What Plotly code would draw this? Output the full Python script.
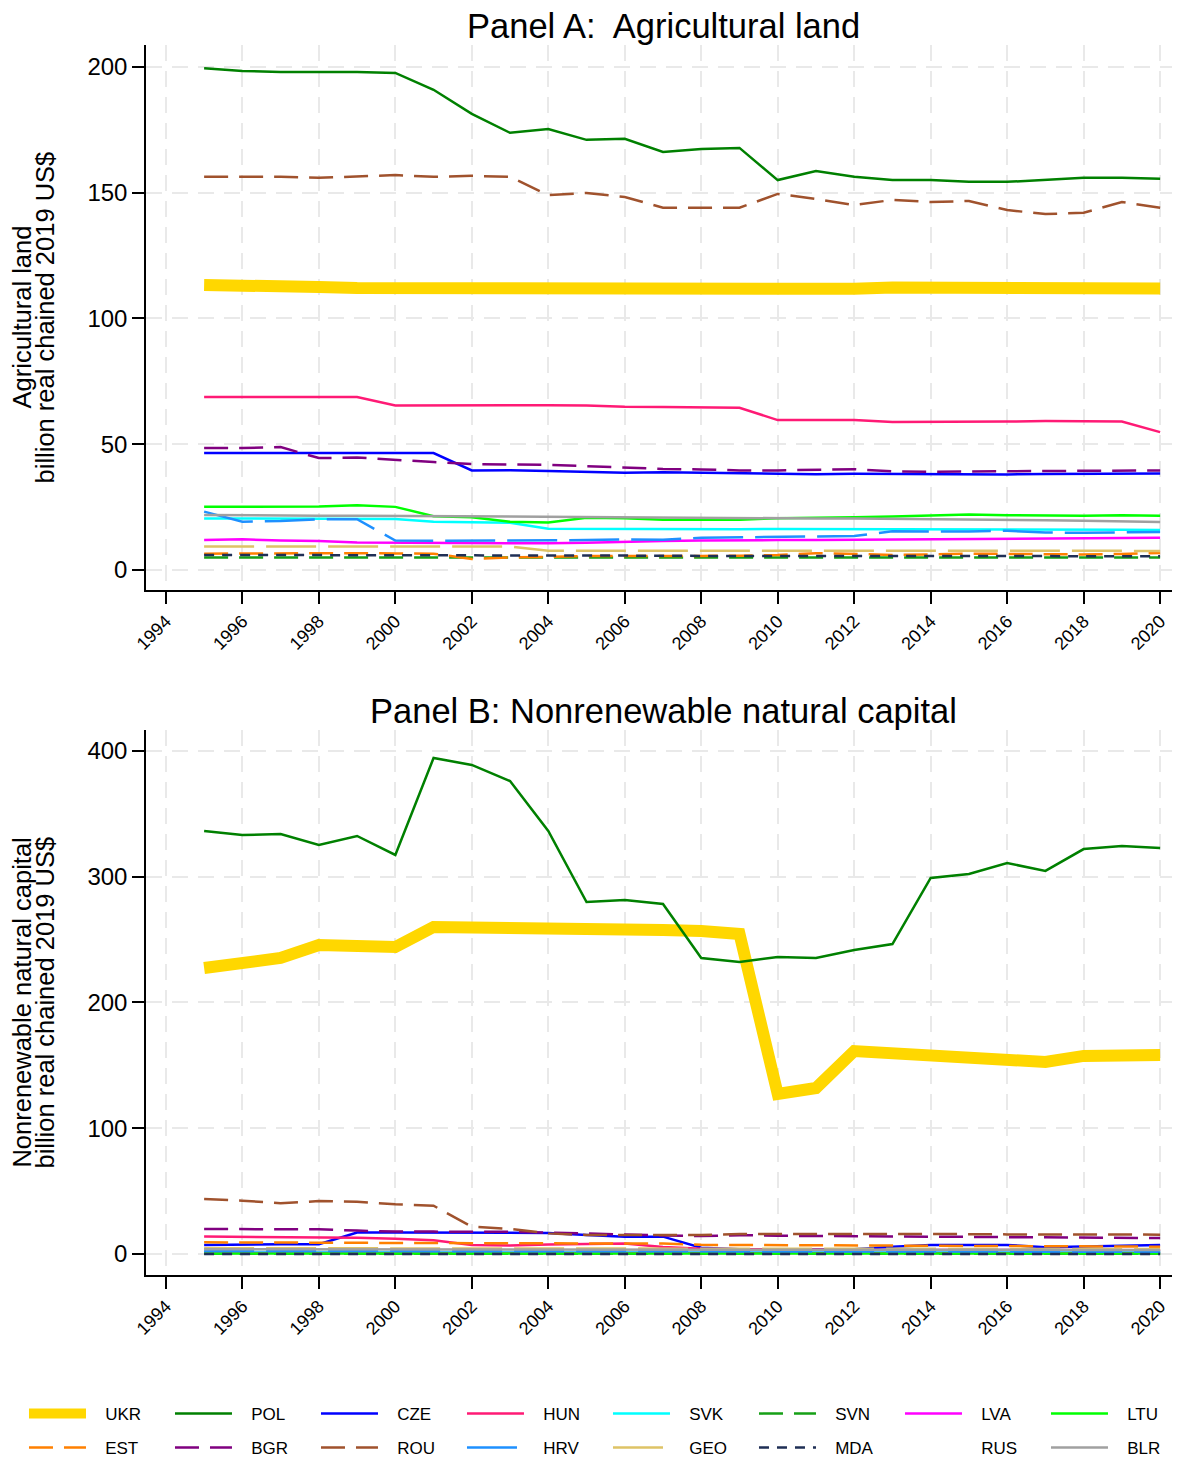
import plotly.graph_objects as go

years = list(range(1995, 2021))

countries = ["UKR", "POL", "CZE", "HUN", "SVK", "SVN", "LVA", "LTU",
             "EST", "BGR", "ROU", "HRV", "GEO", "MDA", "RUS", "BLR"]

# Panel A: agricultural land, billion real chained 2019 US$
agri = {
    "UKR": [113.3, 113.3, 113.3, 112.5, 112.1, 112.0, 111.8, 111.8, 111.8, 111.8, 111.8, 111.7, 111.6,
            111.6, 111.6, 111.6, 111.7, 111.8, 112.3, 112.4, 112.4, 112.4, 112.3, 112.0, 111.9, 111.9],
    "POL": [199.5, 198.4, 198.0, 198.0, 198.0, 197.6, 190.9, 181.3, 173.8, 175.3, 171.0, 171.4, 166.2,
            167.4, 167.8, 155.0, 158.6, 156.3, 155.0, 155.0, 154.3, 154.3, 155.0, 155.9, 155.9, 155.5],
    "CZE": [46.5, 46.5, 46.5, 46.5, 46.5, 46.5, 46.5, 39.6, 39.7, 39.4, 39.1, 38.7, 38.9,
            38.7, 38.5, 38.3, 38.1, 38.3, 38.2, 38.1, 38.0, 38.0, 38.2, 38.3, 38.3, 38.4],
    "HUN": [68.8, 68.8, 68.9, 68.9, 68.8, 65.4, 65.5, 65.4, 65.5, 65.5, 65.4, 64.9, 64.8,
            64.6, 64.5, 59.6, 59.6, 59.6, 58.8, 58.8, 58.8, 59.0, 59.2, 59.2, 59.0, 54.8],
    "SVK": [20.5, 20.5, 20.5, 20.4, 20.4, 20.3, 19.2, 19.1, 18.8, 16.4, 16.3, 16.2, 16.2,
            16.2, 16.2, 16.3, 16.3, 16.2, 16.1, 16.0, 16.0, 16.0, 16.0, 16.0, 16.0, 15.9],
    "SVN": [5.0, 5.0, 5.0, 5.0, 5.1, 5.0, 4.9, 5.0, 5.0, 4.9, 5.0, 5.0, 4.9,
            5.0, 5.0, 5.0, 5.0, 5.0, 5.0, 5.0, 5.0, 5.0, 5.0, 5.0, 5.0, 5.0],
    "LVA": [11.9, 12.2, 11.7, 11.5, 10.9, 10.8, 10.6, 10.6, 10.6, 10.6, 10.8, 11.3, 11.5,
            11.7, 11.9, 11.9, 11.9, 12.0, 12.0, 12.1, 12.2, 12.3, 12.5, 12.6, 12.7, 12.8],
    "LTU": [25.1, 25.1, 25.1, 25.2, 25.7, 25.1, 21.4, 21.0, 19.2, 18.9, 20.8, 20.6, 20.0,
            19.9, 20.0, 20.6, 20.7, 21.0, 21.3, 21.7, 22.1, 21.8, 21.6, 21.6, 21.8, 21.6],
    "EST": [6.5, 6.6, 6.6, 6.6, 6.7, 6.6, 6.5, 4.4, 5.0, 5.2, 5.6, 5.6, 5.5,
            5.6, 5.7, 6.0, 6.7, 6.3, 6.0, 6.2, 6.5, 6.4, 6.3, 6.2, 6.4, 6.8],
    "BGR": [48.5, 48.5, 48.9, 44.5, 44.7, 43.7, 42.9, 42.1, 42.0, 41.8, 41.3, 40.6, 40.2,
            40.0, 39.6, 39.6, 39.8, 40.1, 39.2, 39.0, 39.2, 39.3, 39.4, 39.4, 39.4, 39.6],
    "ROU": [156.3, 156.3, 156.3, 155.9, 156.3, 157.0, 156.3, 156.7, 156.3, 149.0, 149.9, 148.3, 144.0,
            144.0, 144.0, 149.5, 147.5, 145.1, 147.1, 146.3, 146.7, 143.1, 141.5, 142.0, 146.3, 144.0],
    "HRV": [23.2, 19.2, 19.5, 20.2, 20.2, 11.7, 11.6, 11.7, 11.8, 11.7, 11.9, 12.2, 12.0,
            12.8, 13.0, 13.3, 13.4, 13.5, 15.4, 15.3, 15.3, 15.6, 14.9, 14.8, 15.0, 15.1],
    "GEO": [9.3, 9.3, 9.3, 9.3, 9.3, 9.3, 9.3, 9.3, 9.3, 7.7, 7.7, 7.7, 7.7,
            7.7, 7.7, 7.7, 7.7, 7.6, 7.6, 7.6, 7.6, 7.6, 7.6, 7.6, 7.6, 7.6],
    "MDA": [6.0, 6.0, 6.0, 6.0, 6.0, 6.0, 6.0, 5.9, 5.9, 5.9, 5.9, 5.8, 5.7,
            5.6, 5.6, 5.6, 5.5, 5.5, 5.5, 5.5, 5.5, 5.5, 5.5, 5.5, 5.5, 5.5],
    "RUS": [None] * 26,
    "BLR": [21.9, 21.7, 21.6, 21.6, 21.6, 21.5, 21.4, 21.2, 21.0, 20.9, 20.9, 20.8, 20.7,
            20.6, 20.6, 20.5, 20.5, 20.5, 20.4, 20.3, 20.2, 20.0, 19.8, 19.6, 19.4, 19.1],
}

# Panel B: nonrenewable natural capital, billion real chained 2019 US$
nonren = {
    "UKR": [227.4, 230.6, 235.4, 245.7, 244.9, 244.1, 260.0, 260.0, 259.2, 260.0, 258.4, 258.4, 257.7,
            256.9, 254.5, 127.2, 132.0, 161.4, 159.8, 159.8, 156.7, 155.1, 152.7, 157.5, 157.5, 158.3],
    "POL": [336.4, 333.2, 334.0, 325.2, 332.4, 317.3, 394.4, 388.9, 376.1, 336.4, 279.9, 281.5, 278.3,
            235.4, 232.2, 236.2, 235.4, 241.7, 246.5, 299.0, 302.2, 310.9, 304.6, 322.0, 324.5, 322.9],
    "CZE": [7.2, 7.7, 7.7, 7.7, 17.0, 17.0, 17.0, 17.0, 17.0, 16.8, 15.1, 13.8, 13.8,
            5.0, 3.7, 3.7, 3.7, 3.7, 5.8, 7.2, 7.2, 7.2, 5.3, 5.8, 6.6, 7.2],
    "HUN": [13.9, 13.7, 13.5, 13.3, 13.0, 12.2, 10.9, 7.2, 6.8, 7.5, 8.2, 8.3, 5.5,
            4.2, 3.8, 3.5, 3.4, 3.3, 3.2, 3.2, 3.2, 3.3, 3.3, 3.2, 3.1, 3.0],
    "SVK": [1.6, 1.6, 1.6, 1.6, 1.5, 1.5, 1.5, 1.5, 1.5, 1.5, 1.5, 1.5, 1.5,
            1.4, 1.4, 1.4, 1.4, 1.4, 1.4, 1.4, 1.4, 1.4, 1.4, 1.4, 1.4, 1.4],
    "SVN": [0.3] * 26,
    "LVA": [0.8] * 26,
    "LTU": [0.4] * 26,
    "EST": [9.3, 9.3, 9.3, 9.3, 9.0, 8.8, 8.7, 8.6, 8.6, 8.6, 8.5, 8.5, 8.3,
            7.3, 7.2, 7.2, 7.0, 7.0, 7.0, 6.8, 6.6, 6.4, 6.2, 6.0, 6.0, 5.8],
    "BGR": [19.9, 19.9, 19.9, 19.6, 18.6, 17.8, 17.8, 17.8, 17.6, 17.0, 16.2, 15.2, 14.8,
            14.3, 15.0, 14.5, 14.3, 14.3, 14.0, 13.8, 13.8, 13.6, 13.3, 13.0, 12.9, 12.7],
    "ROU": [43.7, 42.4, 40.3, 42.1, 41.6, 39.5, 38.4, 21.7, 19.9, 16.4, 15.1, 15.1, 15.1,
            15.1, 15.9, 15.9, 16.1, 16.4, 16.0, 15.9, 15.8, 15.6, 15.5, 15.4, 15.4, 15.4],
    "HRV": [2.4, 2.4, 2.4, 2.4, 2.4, 2.4, 2.4, 2.4, 2.3, 2.3, 2.3, 2.2, 2.2,
            2.2, 2.1, 2.1, 2.0, 2.0, 2.0, 1.9, 1.9, 1.9, 1.8, 1.8, 1.8, 1.8],
    "GEO": [4.6, 4.6, 4.6, 4.5, 4.5, 4.5, 4.5, 4.4, 4.4, 4.4, 4.3, 4.3, 4.3,
            4.2, 4.2, 4.2, 4.1, 4.1, 4.1, 4.0, 4.0, 4.0, 4.0, 3.9, 3.9, 3.9],
    "MDA": [0.1] * 26,
    "RUS": [None] * 26,
    "BLR": [3.8, 3.8, 3.8, 3.7, 3.7, 3.7, 3.7, 3.6, 3.6, 3.6, 3.6, 3.5, 3.5,
            3.5, 3.5, 3.4, 3.4, 3.4, 3.4, 3.3, 3.3, 3.3, 3.3, 3.2, 3.2, 3.2],
}

colors = {
    "UKR": "#FFD700", "POL": "#008000", "CZE": "#0000FF", "HUN": "#FF1A75",
    "SVK": "#00FFFF", "SVN": "#16A016", "LVA": "#FF00FF", "LTU": "#00FF00",
    "EST": "#FF8000", "BGR": "#800080", "ROU": "#A0522D", "HRV": "#1E90FF",
    "GEO": "#DEC366", "MDA": "#1F2F55", "RUS": "#FFFFFF", "BLR": "#A0A0A0",
}
dashes = {
    "SVN": "24px,11px", "EST": "24px,11px", "BGR": "24px,11px", "ROU": "24px,11px",
    "HRV": "50px,12px", "GEO": "50px,12px", "MDA": "10px,8px",
}

FONT = "Liberation Sans, Arial, sans-serif"
NB = "\u00a0\u00a0\u00a0"  # small gap between legend key and label

fig = go.Figure()
for panel, data, xa, ya in [(1, agri, "x", "y"), (2, nonren, "x2", "y2")]:
    for i, c in enumerate(countries):
        fig.add_trace(go.Scatter(
            x=years, y=data[c], mode="lines", name=NB + c,
            xaxis=xa, yaxis=ya, legendgroup=c,
            showlegend=(panel == 1),
            legend="legend" if i < 8 else "legend2",
            line=dict(color=colors[c], width=12 if c == "UKR" else 2.5,
                      dash=dashes.get(c, "solid")),
            hoverinfo="skip",
        ))

xcommon = dict(
    range=[1993.48, 2020.52], tickmode="array", tickvals=list(range(1994, 2021, 2)),
    tickangle=-45, tickfont=dict(size=18, color="black", family=FONT),
    showline=True, linecolor="black", linewidth=1.5,
    ticks="outside", ticklen=12, tickwidth=1.5, tickcolor="black",
    showgrid=True, gridcolor="#e9e9e9", gridwidth=1.5, griddash="16px,10px",
    zeroline=False,
)
ycommon = dict(
    tickfont=dict(size=24, color="black", family=FONT),
    showline=True, linecolor="black", linewidth=1.5,
    ticks="outside", ticklen=12, tickwidth=1.5, tickcolor="black",
    showgrid=True, gridcolor="#e9e9e9", gridwidth=1.5, griddash="16px,10px",
    zeroline=False,
)

legend_common = dict(
    orientation="h", xanchor="left", yanchor="middle", x=-0.118,
    font=dict(size=17, color="black", family=FONT),
    entrywidth=74, entrywidthmode="pixels", itemwidth=57,
    bgcolor="rgba(0,0,0,0)", itemclick=False, itemdoubleclick=False,
)

fig.update_layout(
    width=1172, height=1452,
    paper_bgcolor="white", plot_bgcolor="white",
    margin=dict(l=138, r=0, t=37, b=185, autoexpand=False),
    font=dict(family=FONT, color="black"),
    xaxis=dict(xcommon, domain=[0, 1], anchor="y"),
    yaxis=dict(ycommon, domain=[0.5569, 1.0], range=[-7.95, 208.7],
               tickvals=[0, 50, 100, 150, 200], anchor="x"),
    xaxis2=dict(xcommon, domain=[0, 1], anchor="y2"),
    yaxis2=dict(ycommon, domain=[0.0, 0.4431], range=[-16.7, 416.7],
                tickvals=[0, 100, 200, 300, 400], anchor="x2"),
    legend=dict(legend_common, y=-0.113),
    legend2=dict(legend_common, y=-0.1407),
    showlegend=True,
)

titles = [("Panel A:  Agricultural land", 1.0,
           ["Agricultural land", "billion real chained 2019 US$"], 0.7785),
          ("Panel B: Nonrenewable natural capital", 0.4431,
           ["Nonrenewable natural capital", "billion real chained 2019 US$"], 0.2215)]
for title, ytop, ylines, ymid in titles:
    fig.add_annotation(text=title, xref="paper", yref="paper", x=0.5, y=ytop,
                       yshift=-1, xanchor="center", yanchor="bottom", showarrow=False,
                       borderpad=0,
                       font=dict(size=34.5, color="black", family=FONT))
    for k, line in enumerate(ylines):
        fig.add_annotation(text=line, xref="paper", yref="paper", x=0, y=ymid,
                           xshift=-124 + 23 * k, xanchor="center", yanchor="middle",
                           textangle=-90, showarrow=False,
                           font=dict(size=25.5, color="black", family=FONT))

fig.write_html("out.html")
